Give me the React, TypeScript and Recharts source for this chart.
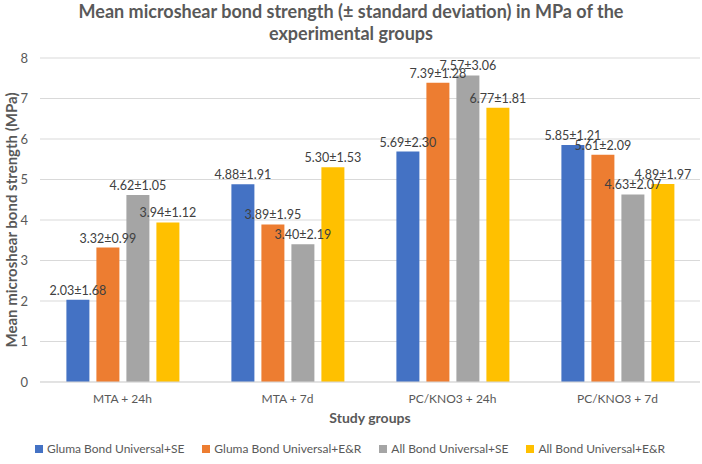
import { Bar, BarChart, CartesianGrid, LabelList, Legend, XAxis, YAxis } from "recharts";

const groups = ["MTA + 24h", "MTA + 7d", "PC/KNO3 + 24h", "PC/KNO3 + 7d"];

const glumaSEMean = [2.03, 4.88, 5.69, 5.85];
const glumaSESd = [1.68, 1.91, 2.3, 1.21];
const glumaERMean = [3.32, 3.89, 7.39, 5.61];
const glumaERSd = [0.99, 1.95, 1.28, 2.09];
const allSEMean = [4.62, 3.4, 7.57, 4.63];
const allSESd = [1.05, 2.19, 3.06, 2.07];
const allERMean = [3.94, 5.3, 6.77, 4.89];
const allERSd = [1.12, 1.53, 1.81, 1.97];

const yTicks = [0, 1, 2, 3, 4, 5, 6, 7, 8];

const series = [
  { key: "glumaSE", name: "Gluma Bond Universal+SE", color: "#4472C4", mean: glumaSEMean, sd: glumaSESd },
  { key: "glumaER", name: "Gluma Bond Universal+E&R", color: "#ED7D31", mean: glumaERMean, sd: glumaERSd },
  { key: "allSE", name: "All Bond Universal+SE", color: "#A5A5A5", mean: allSEMean, sd: allSESd },
  { key: "allER", name: "All Bond Universal+E&R", color: "#FFC000", mean: allERMean, sd: allERSd },
];

const data = groups.map((group, i) => {
  const row: Record<string, string | number> = { group };
  series.forEach((s) => {
    row[s.key] = s.mean[i];
    row[s.key + "Label"] = `${s.mean[i].toFixed(2)}±${s.sd[i].toFixed(2)}`;
  });
  return row;
});

const font = "Lato, 'Open Sans', sans-serif";

function LegendRow() {
  return (
    <div
      style={{
        display: "flex",
        justifyContent: "center",
        gap: 18,
        paddingTop: 7,
        fontSize: 12,
        color: "#595959",
        fontFamily: font,
      }}
    >
      {series.map((s) => (
        <div key={s.key} style={{ display: "flex", alignItems: "center", gap: 4 }}>
          <span style={{ width: 8, height: 8, background: s.color, display: "inline-block" }} />
          <span>{s.name}</span>
        </div>
      ))}
    </div>
  );
}

export default function App() {
  return (
    <div style={{ position: "absolute", left: 0, top: 0, width: 702, height: 464, background: "#fff", fontFamily: font }}>
      <div
        style={{
          position: "absolute",
          top: 0,
          left: 0,
          width: 702,
          textAlign: "center",
          fontSize: 18,
          fontWeight: 700,
          color: "#595959",
          lineHeight: "22px",
        }}
      >
        Mean microshear bond strength (± standard deviation) in MPa of the
        <br />
        experimental groups
      </div>
      <BarChart
        width={702}
        height={464}
        data={data}
        margin={{ top: 58, right: 2, bottom: 0, left: 0 }}
        barCategoryGap="16%"
        barGap={7}
      >
        <CartesianGrid vertical={false} stroke="#D9D9D9" />
        <XAxis
          dataKey="group"
          height={52}
          axisLine={{ stroke: "#D9D9D9" }}
          tickLine={false}
          tick={{ fontSize: 12, fill: "#595959", fontFamily: font }}
          tickMargin={6}
          label={{
            value: "Study groups",
            position: "insideBottom",
            offset: 11,
            fontSize: 14,
            fontWeight: 700,
            fill: "#595959",
            fontFamily: font,
          }}
        />
        <YAxis
          width={40}
          domain={[0, 8]}
          ticks={yTicks}
          axisLine={false}
          tickLine={false}
          tickMargin={6}
          tick={{ fontSize: 13, fill: "#595959", fontFamily: font }}
          label={{
            value: "Mean microshear bond strength (MPa)",
            angle: -90,
            position: "center",
            dx: -8,
            fontSize: 15,
            fontWeight: 700,
            fill: "#595959",
            fontFamily: font,
          }}
        />
        <Legend verticalAlign="bottom" height={30} content={() => <LegendRow />} />
        {series.map((s) => (
          <Bar key={s.key} dataKey={s.key} name={s.name} fill={s.color} isAnimationActive={false}>
            <LabelList
              dataKey={s.key + "Label"}
              position="top"
              offset={5}
              style={{ fontSize: 12.5, fill: "#404040", fontFamily: font }}
            />
          </Bar>
        ))}
      </BarChart>
    </div>
  );
}
